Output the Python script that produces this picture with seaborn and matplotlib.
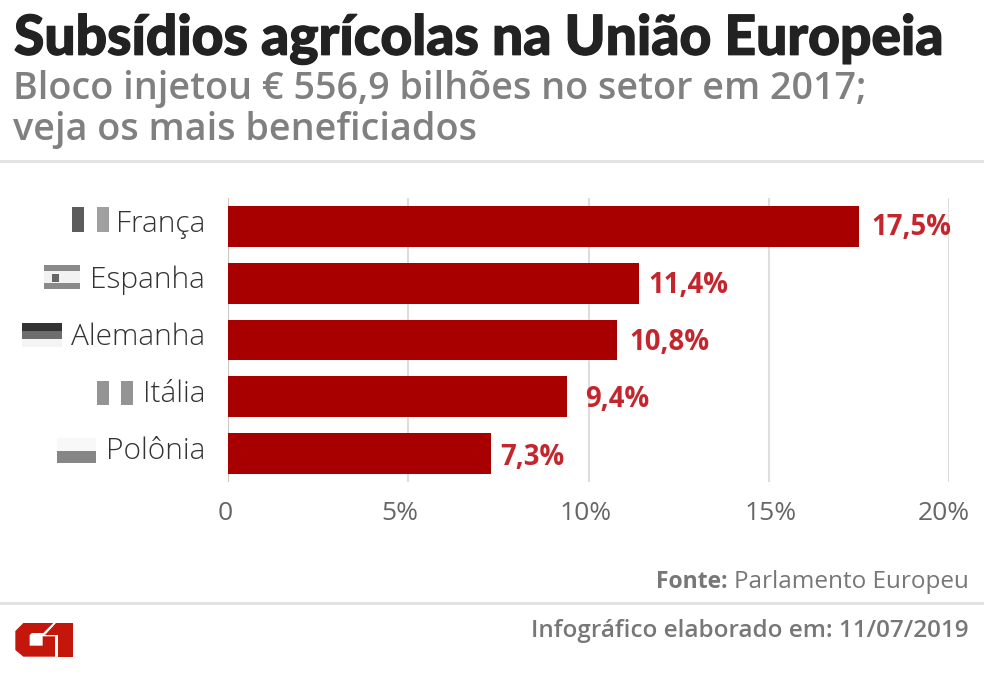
import matplotlib.patheffects as pe
import matplotlib.pyplot as plt
import pandas as pd
import seaborn as sns
from matplotlib.patches import Polygon, Rectangle
from matplotlib.transforms import ScaledTranslation

countries = ["França", "Espanha", "Alemanha", "Itália", "Polônia"]
shares = [17.5, 11.4, 10.8, 9.4, 7.3]
share_labels = ["17,5%", "11,4%", "10,8%", "9,4%", "7,3%"]
x_ticks = [0, 5, 10, 15, 20]
x_tick_labels = ["0", "5%", "10%", "15%", "20%"]

W, H = 984, 678
BAR_RED = "#a80000"
LABEL_RED = "#c4262e"
LOGO_RED = "#c4170c"

# hand placed in the original: pixel nudges for tick and value labels (x right, y down)
TICK_NUDGE = [-3, -8, -3, 2, -5]
VALUE_NUDGE = [(0, 0), (-3, 1), (0, 1), (6, 1), (-3, 3)]

sns.set_theme(style="white")
plt.rcParams["font.family"] = ["Open Sans", "DejaVu Sans"]

df = pd.DataFrame({"country": countries, "share": shares})

fig = plt.figure(figsize=(W / 100, H / 100), dpi=100, facecolor="white")
ax = fig.add_axes([228 / W, 1 - 482 / H, (949 - 228) / W, (482 - 198) / H])

sns.barplot(data=df, x="share", y="country", order=countries, color=BAR_RED,
            saturation=1, width=0.72, linewidth=0, ax=ax, errorbar=None, zorder=3)

ax.set_xlim(0, 20)
ax.set_xlabel("")
ax.set_ylabel("")
ax.set_xticks(x_ticks)
ax.set_xticklabels(x_tick_labels)
ax.tick_params(axis="x", length=0, pad=14, labelsize=19, labelcolor="#666666")
ax.tick_params(axis="y", length=0, pad=16.5, labelsize=21.5, labelcolor="#333333")
ax.xaxis.grid(True, color="#dddddd", linewidth=1.5, zorder=0)
ax.set_axisbelow(True)
sns.despine(ax=ax, left=True, bottom=True, top=True, right=True)
ax.axvline(0, color="#c8c8c8", linewidth=1.5, zorder=2)

for lab, dx in zip(ax.get_xticklabels(), TICK_NUDGE):
    lab.set_transform(lab.get_transform() + ScaledTranslation(dx / 100, 0, fig.dpi_scale_trans))
for lab in ax.get_yticklabels():
    lab.set_fontweight("light")
    lab.set_transform(lab.get_transform() + ScaledTranslation(0, 6 / 100, fig.dpi_scale_trans))

for i, (val, txt) in enumerate(zip(shares, share_labels)):
    dx, dy = VALUE_NUDGE[i]
    ax.annotate(txt, (val, i), xytext=(9 + dx * 0.72, -1 - dy * 0.72), textcoords="offset points",
                ha="left", va="center", fontsize=19.8, fontweight="bold",
                color=LABEL_RED, zorder=4)

# overlay in pixel coordinates for header, rules, flags and footer
ov = fig.add_axes([0, 0, 1, 1], zorder=5)
ov.set_xlim(0, W)
ov.set_ylim(H, 0)
ov.axis("off")
ov.patch.set_alpha(0)


def box(x0, y0, x1, y1, color):
    ov.add_patch(Rectangle((x0, y0), x1 - x0, y1 - y0, facecolor=color, edgecolor="none"))


title = ov.text(14, 39, "Subsídios agrícolas na União Europeia", fontsize=39.7, fontweight="black",
                family="Lato", color="#222222", va="center", ha="left")
title.set_path_effects([pe.withStroke(linewidth=0.9, foreground="#222222")])
ov.text(13, 89, "Bloco injetou € 556,9 bilhões no setor em 2017;", fontsize=27.2,
        fontweight="semibold", color="#808080", va="center", ha="left")
ov.text(13, 130, "veja os mais beneficiados", fontsize=27.2, fontweight="semibold",
        color="#808080", va="center", ha="left")

box(0, 160, W, 163, "#e2e2e2")
box(0, 602, W, 605, "#e2e2e2")

# grey flags next to the country names
box(72, 207, 84, 232, "#5c5c5c")
box(97, 207, 109, 232, "#a0a0a0")
box(44, 265, 80, 271, "#8a8a8a")
box(44, 271, 80, 283, "#f2f2f2")
box(44, 283, 80, 289, "#8a8a8a")
box(52, 274, 59, 282, "#666666")
box(22, 323, 62, 331, "#333333")
box(22, 331, 62, 339, "#6e6e6e")
box(22, 339, 62, 347, "#f4f4f4")
box(97, 381, 109, 405, "#949494")
box(121, 381, 133, 405, "#949494")
box(57, 438, 96, 451, "#f8f8f8")
box(57, 451, 96, 463, "#868686")

ov.text(656, 582, "Fonte:", fontsize=16.5, fontweight="bold", color="#777777", va="center", ha="left")
ov.text(969, 582, "Parlamento Europeu", fontsize=17.5, color="#777777", va="center", ha="right")
ov.text(969, 631, "Infográfico elaborado em: 11/07/2019", fontsize=17.5, fontweight="semibold",
        color="#777777", va="center", ha="right")

# G1 logo
logo_g = [(22, 48), (46, 24), (136, 24), (106, 54), (72, 54), (65, 60), (65, 92), (104, 92),
          (104, 64), (141, 64), (141, 125), (46, 125), (22, 105)]
logo_1 = [(143, 24), (195, 24), (195, 125), (150, 125), (150, 61), (110, 61)]
for shape in (logo_g, logo_1):
    ov.add_patch(Polygon([(8 + x / 3, 615 + y / 3) for x, y in shape], closed=True,
                         facecolor=LOGO_RED, edgecolor="none"))

fig.savefig("out.png", dpi=100)
plt.close(fig)
